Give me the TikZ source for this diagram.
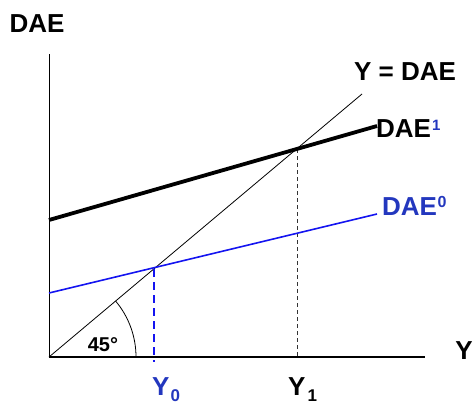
\documentclass[tikz,border=0pt]{standalone}
\usepackage{fontspec}
\setmainfont{Liberation Sans}
\definecolor{txtblue}{RGB}{35,55,190}
\definecolor{lineblue}{RGB}{20,20,240}
\begin{document}
\begin{tikzpicture}[x=1pt,y=-1pt,
  lbl/.style={inner sep=0pt,font=\fontsize{26}{28}\selectfont\bfseries}]
\useasboundingbox (0,0) rectangle (474,405);
% key points
\coordinate (O) at (49,357);
\coordinate (vtop) at (49,54);
\coordinate (hend) at (425,357);
\coordinate (d45) at (362,94);
\coordinate (a1s) at (49,220);
\coordinate (a1e) at (377,126);
\coordinate (a0s) at (49,293);
\coordinate (a0e) at (377,214);
\coordinate (E0) at (154,269);
\coordinate (E1) at (297,149);
\coordinate (E0b) at (154,362);
\coordinate (E1b) at (297,357);
% axes
\draw[line width=1pt] (vtop) -- (O);
\draw[line width=2.6pt] (O) -- (hend);
% 45 degree line
\draw[line width=0.8pt] (O) -- (d45);
% arc
\draw[line width=0.8pt] ([xshift=87pt]O) arc[start angle=0,end angle=40.1,radius=87pt];
% dashed verticals
\draw[lineblue,line width=1.6pt,dash pattern=on 8pt off 5pt] (E0) -- (E0b);
\draw[black!80,line width=0.6pt,dash pattern=on 4pt off 3pt] (E1) -- (E1b);
% DAE lines
\draw[lineblue,line width=1.6pt] (a0s) -- (a0e);
\draw[line width=3.8pt] (a1s) -- (a1e);
% labels
\node[lbl] (tdae) at (37,24) {DAE};
\node[lbl] (tyd) at (405,72) {Y = DAE};
\node[lbl,anchor=base west] (t1) at (376,137) {DAE\kern1pt\raisebox{7pt}{\fontsize{15}{16}\selectfont\color{txtblue}1}};
\node[lbl,anchor=base west,text=txtblue] (t0) at (382,215) {DAE\kern0.5pt\raisebox{8pt}{\fontsize{16}{17}\selectfont 0}};
\node[lbl] (ty) at (464,351) {Y};
\node[lbl,anchor=base west,text=txtblue] (ty0) at (152,395) {Y\kern1pt\raisebox{-6pt}{\fontsize{17}{18}\selectfont 0}};
\node[lbl,anchor=base west] (ty1) at (288,395) {Y\kern2pt\raisebox{-6pt}{\fontsize{17}{18}\selectfont 1}};
\node[inner sep=0pt,font=\fontsize{20}{22}\selectfont\bfseries] (t45) at (103,345) {45°};
\end{tikzpicture}
\end{document}
